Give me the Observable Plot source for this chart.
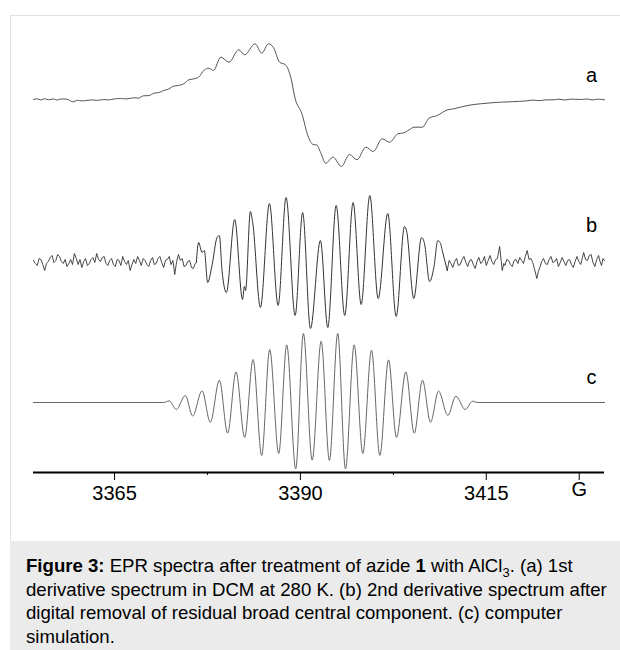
<!DOCTYPE html>
<html>
<head>
<meta charset="utf-8">
<script src="https://cdn.jsdelivr.net/npm/d3@7"></script>
<script src="https://cdn.jsdelivr.net/npm/@observablehq/plot@0.6"></script>
<style>
  html, body { margin: 0; padding: 0; background: #ffffff; }
  #page { position: relative; width: 620px; height: 650px; overflow: hidden; font-family: "Liberation Sans", Arial, sans-serif; }
  #panel { position: absolute; left: 10px; top: 15px; right: 0; bottom: 0; border-top: 1px solid #e3e3e3; border-left: 1px solid #e3e3e3; background: #fff; }
  #chart { position: absolute; left: 0; top: 0; }
  #caption { position: absolute; left: 10px; top: 541px; width: 594px; height: 96px; padding: 13px 0 0 16px; background: #ebebeb; color: #000; font-size: 18.6px; line-height: 23.5px; white-space: nowrap; }
  #caption sub { font-size: 13px; line-height: 0; }
</style>
</head>
<body>
<div id="page">
  <div id="panel"></div>
  <div id="chart"></div>
  <div id="caption"><b>Figure 3:</b> EPR spectra after treatment of azide <b>1</b> with AlCl<sub>3</sub>. (a) 1st<br>derivative spectrum in DCM at 280 K. (b) 2nd derivative spectrum after<br>digital removal of residual broad central component. (c) computer<br>simulation.</div>
</div>
<script>
// ---- axis data (magnetic field, gauss) ----
const fieldDomain = [3354.1, 3430.9];
const fieldTicks = [3365, 3390, 3415];
const minorTicks = [3377.5, 3402.5];
const unitTick = [3427.5];
const unitLabel = ["G"];

// ---- trace names and stacking offsets (arbitrary intensity units) ----
const traceNames = ["a", "b", "c"];
const traceOffsets = [373, 210, 70];
const labelLift = [24, 37, 25];

// ---- (a) 1st derivative spectrum: [field G, intensity] ----
const traceA = [
  [3354.1, 0], [3354.6, 0.7], [3355.1, -0.5], [3355.6, 0.8], [3356.1, -0.3], [3356.8, 0.5],
  [3357.3, -0.6], [3357.8, 0.6], [3358.6, 0.3], [3359.4, -2.3], [3360.0, -0.8], [3360.6, -1.4],
  [3361.3, -1.0], [3362.0, -0.4], [3362.7, -0.9], [3363.5, 0], [3364.2, -0.4], [3365.0, 0.6],
  [3365.8, 1.0], [3366.6, 0.6], [3367.6, 1.7], [3368.2, 1.4], [3368.9, 3.7], [3369.6, 3.9],
  [3370.3, 6.3], [3371.0, 7.0], [3371.6, 9.0], [3372.3, 10.5], [3372.9, 13.3], [3373.6, 14.0],
  [3374.3, 15.7], [3375.0, 19.7], [3375.6, 20.5], [3376.3, 22.3], [3377.1, 29.7], [3377.7, 31.3],
  [3378.3, 29.0], [3379.3, 42.3], [3380.4, 37.3], [3381.7, 49.7], [3382.5, 44.7], [3383.9, 55.7],
  [3384.8, 46.3], [3385.7, 55.7], [3386.4, 51.7], [3387.2, 37.3], [3388.0, 34.7], [3388.7, 22.3],
  [3389.3, 0.7], [3390.2, -14.3], [3391.0, -36.0], [3391.7, -45.0], [3392.2, -45.5], [3392.7, -52.7],
  [3393.4, -63.7], [3394.4, -57.7], [3395.5, -67.0], [3396.6, -55.0], [3397.6, -60.3], [3398.8, -47.7],
  [3399.8, -52.0], [3401.0, -39.3], [3402.0, -42.7], [3403.1, -34.3], [3403.9, -33.3], [3404.6, -30.5],
  [3405.3, -27.7], [3406.4, -27.7], [3407.3, -18.7], [3408.4, -16.0], [3409.8, -10.3], [3410.6, -9.4],
  [3411.5, -7.7], [3412.8, -5.6], [3414.2, -4.3], [3415.5, -3.4], [3416.9, -2.7], [3418.5, -2.2],
  [3420.5, -1.3], [3421.3, -0.6], [3422.1, -1.2], [3422.9, -0.4], [3424.1, -0.3], [3424.8, 0.3],
  [3425.6, -0.5], [3426.4, 0.4], [3427.7, 0], [3428.5, 0.5], [3429.3, -0.4], [3430.1, 0.3], [3430.9, -0.3]
];

// ---- (b) 2nd derivative spectrum ----
const traceBNoiseLeft = [
  [3354.1, 2], [3354.35, -1], [3354.6, -3], [3354.85, 4], [3355.1, 3], [3355.35, -2], [3355.6, -8],
  [3355.85, -1], [3356.1, 1], [3356.35, 5], [3356.6, 7], [3356.85, 0], [3357.1, 2], [3357.35, 8],
  [3357.6, 6], [3357.85, 1], [3358.1, -1], [3358.35, 3], [3358.6, -4], [3358.85, -1], [3359.1, 3],
  [3359.35, -2], [3359.6, 9], [3359.85, 4], [3360.1, -2], [3360.35, 3], [3360.6, -5], [3360.85, 1],
  [3361.1, 4], [3361.35, -3], [3361.6, -1], [3361.85, 3], [3362.1, 5], [3362.35, 0], [3362.6, 9],
  [3362.85, 3], [3363.1, 1], [3363.35, 5], [3363.6, 6], [3363.85, -1], [3364.1, -3], [3364.35, 2],
  [3364.6, 4], [3364.85, -2], [3365.1, -4], [3365.35, 3], [3365.6, 2], [3365.85, -3], [3366.1, 6],
  [3366.35, 1], [3366.6, -2], [3366.85, 2], [3367.1, -8], [3367.35, -2], [3367.6, 3], [3367.85, -1],
  [3368.1, 6], [3368.35, 2], [3368.6, -3], [3368.85, 4], [3369.1, 2], [3369.35, -2], [3369.6, -4],
  [3369.85, 2], [3370.1, 5], [3370.35, -2], [3370.6, -1], [3370.85, 4], [3371.1, 6], [3371.35, 0],
  [3371.6, -5], [3371.85, 2], [3372.1, 3], [3372.35, 6], [3372.6, -2], [3372.85, 2], [3373.1, -12],
  [3373.35, 1], [3373.6, 8], [3373.85, 2], [3374.1, 4], [3374.35, -4], [3374.6, -3], [3374.85, 1],
  [3375.1, 2], [3375.35, -5], [3375.6, -6], [3375.85, -1], [3376.0, 0]
];
const traceBSignal = [
  [3376.0, 0], [3376.31, 20], [3376.77, 10], [3377.08, 12], [3377.52, -20], [3378.11, -3],
  [3378.79, 25], [3379.10, 27], [3379.46, -8], [3380.04, -30], [3381.16, 43], [3382.22, -37],
  [3382.46, -24], [3382.62, -28], [3383.27, 51], [3383.58, 40], [3384.62, -45], [3385.83, 59],
  [3387.00, -43], [3388.07, 65], [3389.29, -53], [3390.30, 50], [3391.35, -66], [3392.69, 22],
  [3393.68, -65], [3394.81, 57], [3395.96, -53], [3397.09, 60], [3398.17, -42], [3399.33, 67],
  [3400.46, -36], [3401.75, 49], [3402.88, -54], [3404.00, 36], [3404.27, 32], [3405.25, -36],
  [3406.29, 25], [3406.69, 19], [3407.37, -19], [3407.95, -5], [3408.48, 22], [3408.85, 19],
  [3409.08, 12], [3409.75, -8]
];
const traceBNoiseRight = [
  [3409.75, -8], [3410.0, 2], [3410.25, -1], [3410.5, -5], [3410.75, 1], [3411.0, 4], [3411.25, -3],
  [3411.5, -2], [3411.75, 3], [3412.0, 6], [3412.25, 0], [3412.5, -4], [3412.75, 2], [3413.0, 3],
  [3413.25, -2], [3413.5, -6], [3413.75, 1], [3414.0, 5], [3414.25, -1], [3414.5, 1], [3414.75, 6],
  [3415.0, -3], [3415.25, 2], [3415.5, 7], [3415.75, 1], [3416.0, -2], [3416.25, 3], [3416.5, 4],
  [3416.8, 16], [3417.0, 2], [3417.15, -8], [3417.35, -1], [3417.5, -3], [3417.75, 3], [3418.0, 2],
  [3418.25, -2], [3418.5, -4], [3418.75, 2], [3419.0, 3], [3419.25, -1], [3419.5, 5], [3419.75, 2],
  [3420.0, -1], [3420.25, 6], [3420.5, 12], [3420.75, 3], [3421.0, 4], [3421.25, 0], [3421.5, -7],
  [3421.8, -16], [3422.0, -9], [3422.2, -5], [3422.45, 1], [3422.7, 4], [3422.95, -1], [3423.2, -2],
  [3423.45, 3], [3423.7, 6], [3423.95, 0], [3424.2, 1], [3424.45, 4], [3424.7, -4], [3424.95, 0],
  [3425.2, 5], [3425.45, 1], [3425.7, -3], [3425.95, 2], [3426.2, 3], [3426.45, -2], [3426.7, -5],
  [3426.95, 1], [3427.2, 6], [3427.45, 1], [3427.7, -2], [3427.9, 4], [3428.1, 10], [3428.35, 3],
  [3428.6, 2], [3428.85, 7], [3429.1, 8], [3429.35, 0], [3429.6, -4], [3429.85, 3], [3430.1, 7],
  [3430.3, 1], [3430.5, -3], [3430.7, 4], [3430.9, 2]
];

// ---- (c) computer simulation ----
const traceC = [
  [3354.1, 0], [3371.60, 0], [3372.36, 1.6], [3373.31, -7], [3374.52, 7], [3375.50, -13.4],
  [3376.77, 11.6], [3377.88, -19.7], [3379.10, 22.3], [3380.21, -30.7], [3381.34, 30.6],
  [3382.50, -35], [3383.63, 43], [3384.79, -53], [3385.87, 53], [3387.08, -51], [3388.16, 57.6],
  [3389.37, -66.4], [3390.40, 69], [3391.58, -57.7], [3392.79, 61.3], [3393.90, -58], [3395.02, 69],
  [3396.06, -66.4], [3397.23, 57.6], [3398.39, -51], [3399.56, 52.3], [3400.68, -53], [3401.85, 42.6],
  [3402.92, -35], [3404.18, 30.6], [3405.31, -30.7], [3406.42, 22.3], [3407.50, -19.7], [3408.58, 11.3],
  [3409.83, -13], [3410.91, 6.3], [3412.17, -7], [3413.16, 1.3], [3413.79, 0], [3430.9, 0]
];

const X = d => d[0];
const shifted = (k) => (d) => d[1] + traceOffsets[k];

const plot = Plot.plot({
  width: 620,
  height: 540,
  marginLeft: 33,
  marginRight: 16,
  marginTop: 12,
  marginBottom: 68,
  style: { fontFamily: '"Liberation Sans", Arial, sans-serif', background: "transparent", overflow: "visible" },
  x: { domain: fieldDomain, axis: null },
  y: { domain: [0, 460], axis: null },
  marks: [
    Plot.line(traceA, { x: X, y: shifted(0), curve: "monotone-x", stroke: "#555", strokeWidth: 1 }),
    Plot.line(traceBNoiseLeft, { x: X, y: shifted(1), stroke: "#333", strokeWidth: 0.9 }),
    Plot.line(traceBSignal, { x: X, y: shifted(1), curve: "monotone-x", stroke: "#333", strokeWidth: 1 }),
    Plot.line(traceBNoiseRight, { x: X, y: shifted(1), stroke: "#333", strokeWidth: 0.9 }),
    Plot.line(traceC, { x: X, y: shifted(2), curve: "monotone-x", stroke: "#666", strokeWidth: 1 }),
    Plot.text(traceNames, { x: fieldDomain[1], y: (d, i) => traceOffsets[i] + labelLift[i], text: d => d, textAnchor: "middle", dx: -13, fontSize: 20, fill: "#000" }),
    Plot.ruleY([0], { x1: fieldDomain[0], x2: fieldDomain[1], stroke: "#000", strokeWidth: 2 }),
    Plot.axisX(fieldTicks, { anchor: "bottom", tickSize: 8, tickPadding: 5, fontSize: 20, tickFormat: d => String(d), stroke: "#000", fill: "#000" }),
    Plot.axisX(minorTicks, { anchor: "bottom", tickSize: 3, tickFormat: null, label: null, text: null, stroke: "#000" }),
    Plot.axisX(unitTick, { anchor: "bottom", tickSize: 8, tickPadding: 1, fontSize: 20, tickFormat: (d, i) => unitLabel[i], label: null, stroke: "#000", fill: "#000" })
  ]
});
document.getElementById("chart").appendChild(plot);
</script>
</body>
</html>
